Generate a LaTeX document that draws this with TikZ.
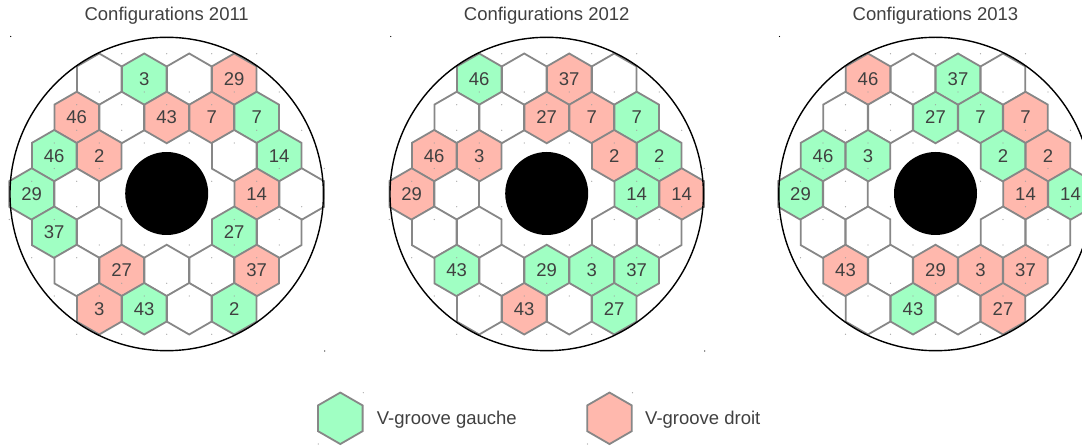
\documentclass[tikz,border=0pt]{standalone}
\usepackage{fontspec}
\setmainfont{Liberation Sans}
\usetikzlibrary{shapes.geometric}
\definecolor{hG}{HTML}{A0FFC3}
\definecolor{hP}{HTML}{FFB8AD}
\definecolor{hW}{HTML}{FFFFFF}
\definecolor{txt}{HTML}{404040}
\definecolor{hexline}{HTML}{878787}
\tikzset{
  hexcell/.style={shape=regular polygon, regular polygon sides=6,
    regular polygon rotate=30, minimum size=51.5pt, inner sep=0pt,
    outer sep=0pt, draw=hexline, line width=1.8pt, text=txt,
    font=\fontsize{18.5}{20}\selectfont},
  paneltitle/.style={anchor=base, inner sep=0pt, text=txt,
    font=\fontsize{18.5}{20}\selectfont},
  legtext/.style={anchor=base west, inner sep=0pt, text=txt,
    font=\fontsize{18.5}{20}\selectfont},
  ring/.style={circle, draw=black, line width=1.4pt, minimum size=313.4pt,
    inner sep=0pt},
  core/.style={circle, fill=black, minimum size=83pt, inner sep=0pt},
  hexdot/.style={fill=gray!75},
  cornerdot/.style={fill=black}
}
\newcommand\drawpanel[4]{%
  \node[paneltitle] (#1-title) at (#2,20.7) {#3};
  \foreach \u/\r/\c/\t [count=\i] in {#4} {
    \node[hexcell, fill=h\c] (#1-h\i) at ({#2+(\u)*22.5},{194+(\r)*38.25}) {\t};
  }
  \foreach \u/\r/\c/\t [count=\i] in {#4} {
    \fill[hexdot] (#1-h\i.center) ++(22.5,-25.5) circle (0.6);
    \fill[hexdot] (#1-h\i.center) ++(-22.5,25.5) circle (0.6);
  }
  \node[ring] (#1-ring) at (#2,194) {};
  \node[core] (#1-core) at (#2,193.5) {};
  \fill[cornerdot] (#2-156,36.5) circle (0.7);
  \fill[cornerdot] (#2+158,351) circle (0.7);
}
\begin{document}
\begin{tikzpicture}[x=1pt,y=-1pt]
\useasboundingbox (0,0) rectangle (1082,446);
\clip (0,0) rectangle (1082,446);
\fill[white] (0,0) rectangle (1082,446);

\drawpanel{pa}{166.7}{Configurations 2011}{%
 -3/-3/W/{}, -1/-3/G/3, 1/-3/W/{}, 3/-3/P/29,
 -4/-2/P/46, -2/-2/W/{}, 0/-2/P/43, 2/-2/P/7, 4/-2/G/7,
 -5/-1/G/46, -3/-1/P/2, 3/-1/W/{}, 5/-1/G/14,
 -6/0/G/29, -4/0/W/{}, 4/0/P/14, 6/0/W/{},
 -5/1/G/37, -3/1/W/{}, 3/1/G/27, 5/1/W/{},
 -4/2/W/{}, -2/2/P/27, 0/2/W/{}, 2/2/W/{}, 4/2/P/37,
 -3/3/P/3, -1/3/G/43, 1/3/W/{}, 3/3/G/2}

\drawpanel{pb}{546.7}{Configurations 2012}{%
 -3/-3/G/46, -1/-3/W/{}, 1/-3/P/37, 3/-3/W/{},
 -4/-2/W/{}, -2/-2/W/{}, 0/-2/P/27, 2/-2/P/7, 4/-2/G/7,
 -5/-1/P/46, -3/-1/P/3, 3/-1/P/2, 5/-1/G/2,
 -6/0/P/29, -4/0/W/{}, 4/0/G/14, 6/0/P/14,
 -5/1/W/{}, -3/1/W/{}, 3/1/W/{}, 5/1/W/{},
 -4/2/G/43, -2/2/W/{}, 0/2/G/29, 2/2/G/3, 4/2/G/37,
 -3/3/W/{}, -1/3/P/43, 1/3/W/{}, 3/3/G/27}

\drawpanel{pc}{935.5}{Configurations 2013}{%
 -3/-3/P/46, -1/-3/W/{}, 1/-3/G/37, 3/-3/W/{},
 -4/-2/W/{}, -2/-2/W/{}, 0/-2/G/27, 2/-2/G/7, 4/-2/P/7,
 -5/-1/G/46, -3/-1/G/3, 3/-1/G/2, 5/-1/P/2,
 -6/0/G/29, -4/0/W/{}, 4/0/P/14, 6/0/G/14,
 -5/1/W/{}, -3/1/W/{}, 3/1/W/{}, 5/1/W/{},
 -4/2/P/43, -2/2/W/{}, 0/2/P/29, 2/2/P/3, 4/2/P/37,
 -3/3/W/{}, -1/3/G/43, 1/3/W/{}, 3/3/P/27}

% legend
\node[hexcell, fill=hG] (legG) at (340.3,418.3) {};
\node[hexcell, fill=hP] (legP) at (609.5,418.3) {};
\fill[hexdot] (legG.center) ++(23,-25.6) circle (0.6);
\fill[hexdot] (legG.center) ++(-22,25.7) circle (0.6);
\fill[hexdot] (legP.center) ++(23,-25.6) circle (0.6);
\fill[hexdot] (legP.center) ++(-22,25.7) circle (0.6);
\node[legtext] (legGt) at (376.7,424.3) {V-groove gauche};
\node[legtext] (legPt) at (645,424.3) {V-groove droit};
\end{tikzpicture}
\end{document}
